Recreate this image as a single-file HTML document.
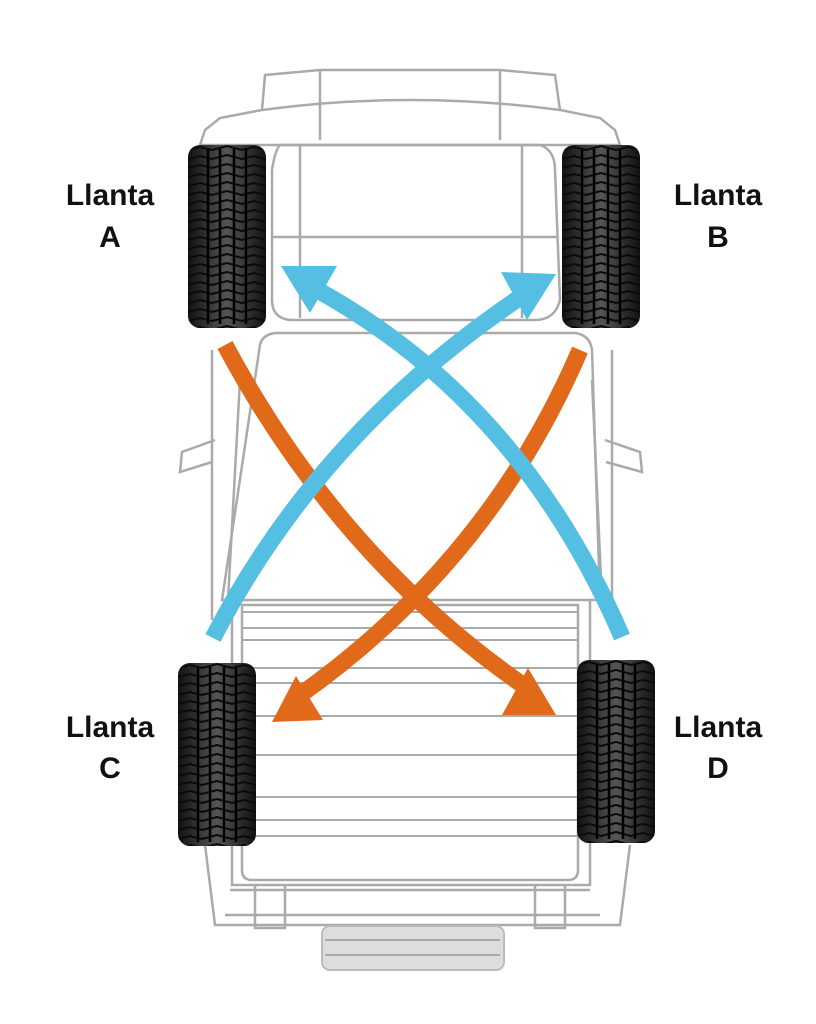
<!DOCTYPE html>
<html><head><meta charset="utf-8"><style>
html,body{margin:0;padding:0;background:#fff;}
svg{display:block}
text{font-family:"Liberation Sans",sans-serif;font-weight:bold;font-size:30px;fill:#111;text-anchor:middle}
</style></head><body>
<svg width="816" height="1024" viewBox="0 0 816 1024" xmlns="http://www.w3.org/2000/svg">
<defs>
<linearGradient id="tg" x1="0" x2="1" y1="0" y2="0">
<stop offset="0" stop-color="#111"/><stop offset="0.3" stop-color="#3a3a3a"/><stop offset="0.5" stop-color="#555"/><stop offset="0.7" stop-color="#3a3a3a"/><stop offset="1" stop-color="#111"/>
</linearGradient>
<pattern id="tread" width="78" height="9" patternUnits="userSpaceOnUse">
<path d="M0 5 L12 2 L24 5 L39 1 L54 5 L66 2 L78 5" stroke="#0a0a0a" stroke-width="2" fill="none"/>
</pattern>
<g id="tire">
<rect x="0" y="0" width="78" height="183" rx="12" fill="url(#tg)"/>
<rect x="0" y="0" width="78" height="183" rx="12" fill="url(#tread)"/>
<g stroke="#000" stroke-width="2.5"><line x1="20" y1="4" x2="20" y2="179"/><line x1="32" y1="4" x2="32" y2="179"/><line x1="46" y1="4" x2="46" y2="179"/><line x1="58" y1="4" x2="58" y2="179"/></g>
</g>
</defs>
<g fill="none" stroke="#aaa" stroke-width="2.5">
<path d="M265 75 L320 70 L500 70 L555 75 L560 110 L600 118 L615 130 L620 145 L200 145 L205 130 L220 118 L262 110 Z"/>
<path d="M320 70 L320 140 M500 70 L500 140 M262 110 Q410 90 560 110"/>
<path d="M280 145 L540 145 Q555 150 555 170 L560 300 Q555 320 535 320 L290 320 Q272 318 272 300 L272 170 Q275 150 280 145 Z"/>
<line x1="272" y1="237" x2="558" y2="237"/>
<line x1="300" y1="145" x2="300" y2="318"/><line x1="522" y1="145" x2="522" y2="318"/>
<path d="M260 345 Q262 335 275 333 L575 333 Q590 335 592 350 L600 600 L222 600 Z"/>
<path d="M240 380 L228 600 M592 380 L602 600"/>
<path d="M212 350 L212 620 M612 350 L612 620"/>
<path d="M215 440 L182 452 L180 472 L212 462"/>
<path d="M605 440 L640 452 L642 472 L606 462"/>
<path d="M242 605 L578 605 L578 870 Q578 880 568 880 L252 880 Q242 880 242 870 Z"/>
<path d="M232 600 L232 885 L590 885 L590 600"/>
<g stroke-width="2">
<line x1="242" y1="612" x2="578" y2="612"/><line x1="242" y1="628" x2="578" y2="628"/><line x1="242" y1="640" x2="578" y2="640"/><line x1="242" y1="668" x2="578" y2="668"/><line x1="242" y1="683" x2="578" y2="683"/><line x1="242" y1="716" x2="578" y2="716"/><line x1="242" y1="755" x2="578" y2="755"/><line x1="242" y1="797" x2="578" y2="797"/><line x1="242" y1="820" x2="578" y2="820"/><line x1="242" y1="836" x2="578" y2="836"/>
</g>
<path d="M205 845 L215 925 L620 925 L630 845"/>
<path d="M230 890 L590 890 M225 915 L600 915"/>
<path d="M255 885 L255 928 L285 928 L285 885 M535 885 L535 928 L565 928 L565 885"/>
</g>
<rect x="322" y="926" width="182" height="44" rx="8" fill="#ddd" stroke="#bbb" stroke-width="2"/>
<g stroke="#aaa" stroke-width="2"><line x1="325" y1="940" x2="500" y2="940"/><line x1="325" y1="955" x2="500" y2="955"/></g>
<use href="#tire" x="188" y="145"/>
<use href="#tire" x="562" y="145"/>
<use href="#tire" x="178" y="663"/>
<use href="#tire" x="577" y="660"/>
<g fill="none" stroke-width="17">
<path d="M225 345 Q340 560 530 690" stroke="#e06a1a"/>
<path d="M580 350 Q490 560 300 695" stroke="#e06a1a"/>
<path d="M622 637 Q520 400 312 287" stroke="#55bfe3"/>
<path d="M213 638 Q320 430 528 292" stroke="#55bfe3"/>
</g>
<polygon points="281,266 337,266 310,313" fill="#55bfe3"/>
<polygon points="501,272 556,274 527,320" fill="#55bfe3"/>
<polygon points="528,668 556,715 502,715" fill="#e06a1a"/>
<polygon points="296,676 272,722 323,720" fill="#e06a1a"/>
<text x="110" y="205">Llanta</text><text x="110" y="247">A</text>
<text x="718" y="205">Llanta</text><text x="718" y="247">B</text>
<text x="110" y="737">Llanta</text><text x="110" y="778">C</text>
<text x="718" y="737">Llanta</text><text x="718" y="778">D</text>
</svg>
</body></html>
